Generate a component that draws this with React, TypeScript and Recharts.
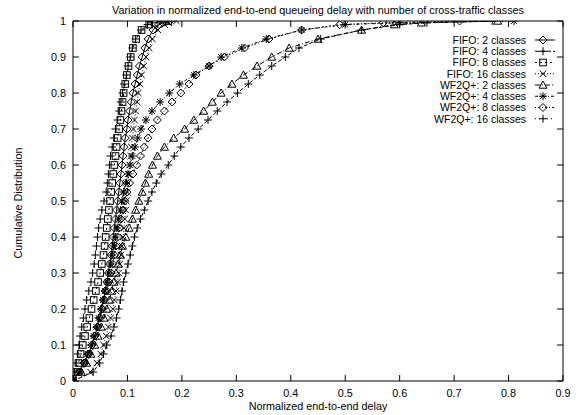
import React from 'react';
import { ScatterChart, Scatter, XAxis, YAxis, ReferenceArea } from 'recharts';

// Cumulative-distribution levels (shared by all series)
const levels = [0, 0.025, 0.05, 0.075, 0.1, 0.125, 0.15, 0.175, 0.2, 0.225, 0.25, 0.275, 0.3, 0.325, 0.35, 0.375, 0.4, 0.425, 0.45, 0.475, 0.5, 0.525, 0.55, 0.575, 0.6, 0.625, 0.65, 0.675, 0.7, 0.725, 0.75, 0.775, 0.8, 0.825, 0.85, 0.875, 0.9, 0.925, 0.95, 0.975, 0.99, 0.995, 1];

// Normalized end-to-end delay at each level
const fifo2 = [0, 0.01, 0.02, 0.028, 0.035, 0.04, 0.045, 0.049, 0.053, 0.056, 0.059, 0.062, 0.065, 0.067, 0.07, 0.072, 0.074, 0.076, 0.078, 0.08, 0.082, 0.084, 0.086, 0.088, 0.09, 0.092, 0.094, 0.096, 0.099, 0.101, 0.104, 0.107, 0.11, 0.114, 0.118, 0.122, 0.127, 0.132, 0.138, 0.147, 0.158, 0.165, 0.178];
const fifo4 = [0, 0.037, 0.049, 0.056, 0.062, 0.07, 0.075, 0.08, 0.084, 0.087, 0.09, 0.093, 0.097, 0.101, 0.105, 0.109, 0.113, 0.118, 0.124, 0.131, 0.138, 0.145, 0.153, 0.162, 0.175, 0.186, 0.198, 0.213, 0.23, 0.248, 0.265, 0.283, 0.302, 0.322, 0.343, 0.365, 0.39, 0.415, 0.455, 0.53, 0.6, 0.65, 0.77];
const fifo8 = [0, 0.006, 0.01, 0.014, 0.018, 0.022, 0.026, 0.03, 0.034, 0.038, 0.042, 0.046, 0.05, 0.053, 0.056, 0.058, 0.06, 0.062, 0.064, 0.066, 0.068, 0.07, 0.072, 0.074, 0.076, 0.078, 0.08, 0.082, 0.085, 0.087, 0.089, 0.091, 0.093, 0.096, 0.099, 0.102, 0.106, 0.11, 0.116, 0.126, 0.14, 0.15, 0.175];
const fifo16 = [0, 0.032, 0.044, 0.051, 0.056, 0.061, 0.065, 0.069, 0.073, 0.076, 0.079, 0.082, 0.084, 0.086, 0.088, 0.09, 0.092, 0.094, 0.095, 0.097, 0.098, 0.1, 0.101, 0.103, 0.104, 0.106, 0.107, 0.109, 0.111, 0.113, 0.115, 0.118, 0.12, 0.123, 0.126, 0.13, 0.134, 0.14, 0.146, 0.156, 0.168, 0.176, 0.19];
const wf2q2 = [0, 0.015, 0.025, 0.033, 0.04, 0.046, 0.052, 0.057, 0.062, 0.067, 0.071, 0.075, 0.079, 0.083, 0.087, 0.091, 0.097, 0.103, 0.109, 0.115, 0.121, 0.127, 0.133, 0.139, 0.146, 0.155, 0.168, 0.185, 0.205, 0.222, 0.24, 0.256, 0.272, 0.292, 0.313, 0.338, 0.365, 0.397, 0.45, 0.53, 0.59, 0.64, 0.78];
const wf2q4 = [0, 0.012, 0.02, 0.027, 0.033, 0.038, 0.043, 0.047, 0.051, 0.055, 0.059, 0.063, 0.066, 0.069, 0.072, 0.075, 0.078, 0.081, 0.084, 0.087, 0.09, 0.093, 0.097, 0.101, 0.105, 0.109, 0.114, 0.119, 0.125, 0.134, 0.145, 0.16, 0.177, 0.196, 0.222, 0.25, 0.272, 0.31, 0.355, 0.42, 0.5, 0.6, 0.81];
const wf2q8 = [0, 0.013, 0.022, 0.029, 0.035, 0.04, 0.045, 0.05, 0.054, 0.058, 0.062, 0.066, 0.07, 0.073, 0.076, 0.079, 0.082, 0.085, 0.088, 0.092, 0.095, 0.099, 0.104, 0.11, 0.117, 0.124, 0.131, 0.138, 0.145, 0.155, 0.168, 0.182, 0.198, 0.213, 0.226, 0.25, 0.278, 0.315, 0.36, 0.42, 0.49, 0.57, 0.71];
const wf2q16 = [0, 0.003, 0.006, 0.009, 0.011, 0.013, 0.016, 0.019, 0.022, 0.025, 0.029, 0.033, 0.036, 0.039, 0.041, 0.043, 0.045, 0.047, 0.05, 0.053, 0.057, 0.061, 0.063, 0.065, 0.067, 0.069, 0.072, 0.075, 0.078, 0.082, 0.085, 0.088, 0.091, 0.094, 0.098, 0.101, 0.105, 0.109, 0.115, 0.125, 0.137, 0.145, 0.16];

const seriesNames = ['FIFO: 2 classes', 'FIFO: 4 classes', 'FIFO: 8 classes', 'FIFO: 16 classes', 'WF2Q+: 2 classes', 'WF2Q+: 4 classes', 'WF2Q+: 8 classes', 'WF2Q+: 16 classes'];
const seriesValues = [fifo2, fifo4, fifo8, fifo16, wf2q2, wf2q4, wf2q8, wf2q16];

const xTicks = [0, 0.1, 0.2, 0.3, 0.4, 0.5, 0.6, 0.7, 0.8, 0.9];
const yTicks = [0, 0.1, 0.2, 0.3, 0.4, 0.5, 0.6, 0.7, 0.8, 0.9, 1];

const titleText = 'Variation in normalized end-to-end queueing delay with number of cross-traffic classes';
const xLabel = 'Normalized end-to-end delay';
const yLabel = 'Cumulative Distribution';

// styles (not data)
const markerKinds = ['diamond', 'plus', 'square', 'cross', 'triangle', 'star', 'diamond', 'plus'];
const dashes = ['', '4 2', '2 3', '1 2', '5 2 1 2', '3 2 1 2', '1 2 2 2', '1 3'];

const W = 576, H = 415;
const PL = 73, PR = 563, PT = 21, PB = 381;
const TICK = 6;
const FONT = '"Liberation Sans", Arial, Helvetica, sans-serif';
const FS = 10.8;

function Marker({ kind, cx, cy }: { kind: string; cx: number; cy: number }) {
  const s = 4;
  const st = { fill: 'none', stroke: '#000', strokeWidth: 1 };
  if (cx == null || cy == null) return null;
  switch (kind) {
    case 'diamond':
      return <path d={`M${cx},${cy - s}L${cx + s},${cy}L${cx},${cy + s}L${cx - s},${cy}Z`} {...st} />;
    case 'plus':
      return <path d={`M${cx - s},${cy}H${cx + s}M${cx},${cy - s}V${cy + s}`} {...st} />;
    case 'square':
      return <rect x={cx - 3.3} y={cy - 3.3} width={6.6} height={6.6} {...st} />;
    case 'cross':
      return <path d={`M${cx - 3.2},${cy - 3.2}L${cx + 3.2},${cy + 3.2}M${cx - 3.2},${cy + 3.2}L${cx + 3.2},${cy - 3.2}`} {...st} />;
    case 'triangle':
      return <path d={`M${cx},${cy - s}L${cx + s},${cy + s * 0.8}L${cx - s},${cy + s * 0.8}Z`} {...st} />;
    case 'star':
      return <path d={`M${cx - s},${cy}H${cx + s}M${cx},${cy - s}V${cy + s}M${cx - 2.9},${cy - 2.9}L${cx + 2.9},${cy + 2.9}M${cx - 2.9},${cy + 2.9}L${cx + 2.9},${cy - 2.9}`} {...st} />;
    default:
      return null;
  }
}

function XTick(props: any) {
  const { x, payload } = props;
  return (
    <g>
      <line x1={x} x2={x} y1={PB} y2={PB - TICK} stroke="#000" strokeWidth={1} />
      <line x1={x} x2={x} y1={PT} y2={PT + TICK} stroke="#000" strokeWidth={1} />
      <text x={x} y={PB + 16} textAnchor="middle" fontFamily={FONT} fontSize={FS} fill="#000">{String(payload.value)}</text>
    </g>
  );
}

function YTick(props: any) {
  const { y, payload } = props;
  return (
    <g>
      <line x1={PL} x2={PL + TICK} y1={y} y2={y} stroke="#000" strokeWidth={1} />
      <line x1={PR} x2={PR - TICK} y1={y} y2={y} stroke="#000" strokeWidth={1} />
      <text x={PL - 7} y={y + 4} textAnchor="end" fontFamily={FONT} fontSize={FS} fill="#000">{String(payload.value)}</text>
    </g>
  );
}

export default function App() {
  const series = seriesValues.map((xs, i) => ({
    name: seriesNames[i],
    points: xs.map((x, j) => ({ x, y: levels[j] })),
  }));
  return (
    <div style={{ position: 'absolute', left: 0, top: 0, width: W, height: H, background: '#fff' }}>
      <ScatterChart width={W} height={H} margin={{ top: PT, right: W - PR, bottom: 3, left: 13 }}>
        <XAxis type="number" dataKey="x" domain={[0, 0.9]} ticks={xTicks} height={H - PB - 3} axisLine={false} tickLine={false} tick={<XTick />} allowDataOverflow />
        <YAxis type="number" dataKey="y" domain={[0, 1]} ticks={yTicks} width={PL - 13} axisLine={false} tickLine={false} tick={<YTick />} allowDataOverflow />
        <ReferenceArea x1={0} x2={0.9} y1={0} y2={1} fill="none" fillOpacity={0} stroke="#000" strokeWidth={1} />
        {series.map((s, i) => (
          <Scatter
            key={s.name}
            name={s.name}
            data={s.points}
            fill="#000"
            line={{ stroke: '#000', strokeWidth: 1, strokeDasharray: dashes[i] || undefined }}
            lineType="joint"
            isAnimationActive={false}
            shape={(p: any) => <Marker kind={markerKinds[i]} cx={p.cx} cy={p.cy} />}
          />
        ))}
      </ScatterChart>
      <svg width={W} height={H} style={{ position: 'absolute', left: 0, top: 0, pointerEvents: 'none' }}>
        <text x={318} y={14} textAnchor="middle" fontFamily={FONT} fontSize={FS} fill="#000">{titleText}</text>
        <text x={318} y={410} textAnchor="middle" fontFamily={FONT} fontSize={FS} fill="#000">{xLabel}</text>
        <text x={0} y={0} transform={`translate(22,203) rotate(-90)`} textAnchor="middle" fontFamily={FONT} fontSize={FS} fill="#000">{yLabel}</text>
        {seriesNames.map((n, i) => {
          const cy = 40 + i * 11.25;
          return (
            <g key={n}>
              <text x={526} y={cy + 3.8} textAnchor="end" fontFamily={FONT} fontSize={10.5} fill="#000">{n}</text>
              <line x1={535} x2={555} y1={cy} y2={cy} stroke="#000" strokeWidth={1} strokeDasharray={dashes[i] || undefined} />
              <Marker kind={markerKinds[i]} cx={543} cy={cy} />
            </g>
          );
        })}
      </svg>
    </div>
  );
}
